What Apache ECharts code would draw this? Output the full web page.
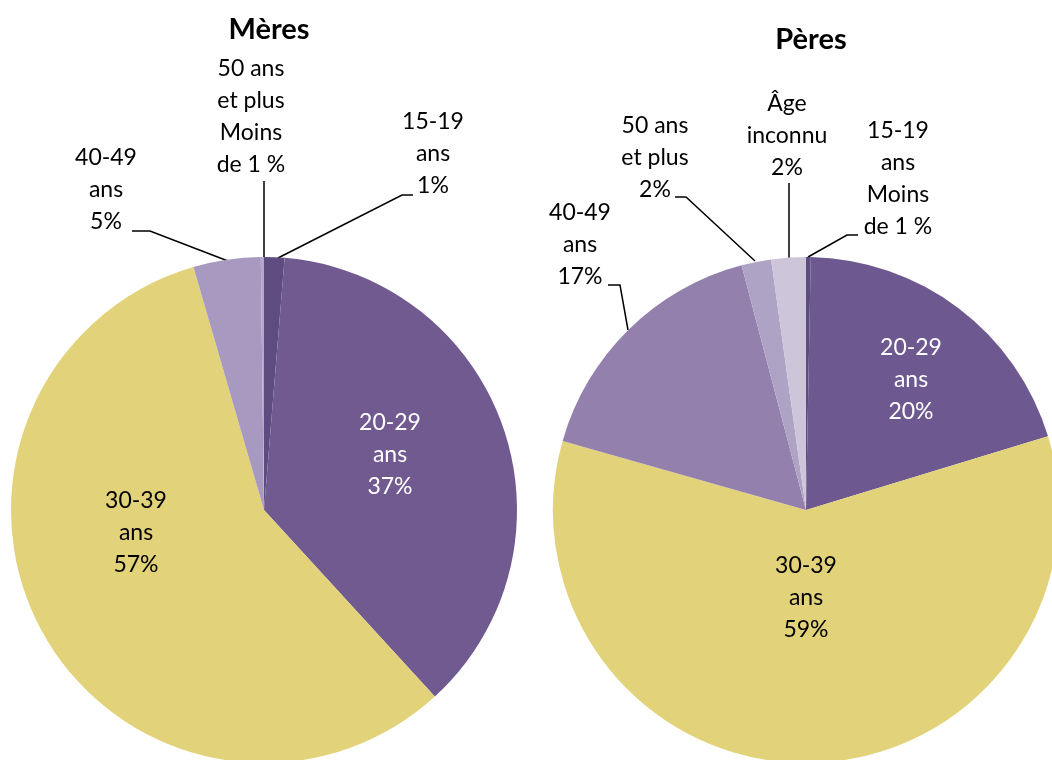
<!DOCTYPE html>
<html>
<head>
    <meta charset="utf-8"/>
    <title>Âge des parents</title>
    <script src="https://cdn.jsdelivr.net/npm/echarts@6/dist/echarts.min.js"></script>
    <style>
        html, body { margin: 0; padding: 0; background: #fff; }
        #main { width: 1052px; height: 760px; }
    </style>
</head>
<body>
<div id="main"></div>
<script type="text/javascript">
    // données
    const categoriesMeres = ['15-19 ans', '20-29 ans', '30-39 ans', '40-49 ans', '50 ans et plus'];
    const valuesMeres = [1.3, 36.9, 57.3, 4.3, 0.2];
    const labelsMeres = ['15-19\nans\n1%', '20-29\nans\n37%', '30-39\nans\n57%', '40-49\nans\n5%', '50 ans\net plus\nMoins\nde 1 %'];
    const colorsMeres = ['#5e4b80', '#705a90', '#e2d27a', '#a899c0', '#b3a8c9'];

    const categoriesPeres = ['15-19 ans', '20-29 ans', '30-39 ans', '40-49 ans', '50 ans et plus', 'Âge inconnu'];
    const valuesPeres = [0.3, 20.0, 59.1, 16.5, 1.9, 2.2];
    const labelsPeres = ['15-19\nans\nMoins\nde 1 %', '20-29\nans\n20%', '30-39\nans\n59%', '40-49\nans\n17%', '50 ans\net plus\n2%', 'Âge\ninconnu\n2%'];
    const colorsPeres = ['#5e4b80', '#6d5890', '#e2d27a', '#9480ad', '#aea3c5', '#cdc6db'];

    // placement des étiquettes (centre du texte) et lignes de rappel
    const labelPosMeres = [
        {x: 433, y: 154, line: [[278, 258], [402, 195], [413, 195]]},
        {x: 390, y: 455, color: '#fff'},
        {x: 136, y: 533},
        {x: 106, y: 190, line: [[228, 261], [150, 231], [132, 231]]},
        {x: 251, y: 117, line: [[264, 258], [264, 220], [264, 181]]}
    ];
    const labelPosPeres = [
        {x: 898, y: 179, line: [[808, 257], [847, 235], [858, 235]]},
        {x: 911, y: 380, color: '#fff'},
        {x: 806, y: 598},
        {x: 580, y: 245, line: [[628, 330], [620, 285], [608, 285]]},
        {x: 655, y: 158, line: [[755, 261], [686, 197], [675, 197]]},
        {x: 787, y: 136, line: [[789, 258], [789, 220], [789, 183]]}
    ];

    const fontFamily = 'Lato, "Open Sans", sans-serif';

    let buildData = function (cats, vals, labels, colors, pos) {
        return cats.map(function (c, i) {
            return {
                name: c,
                value: vals[i],
                itemStyle: {color: colors[i]},
                label: {formatter: labels[i], color: pos[i].color || '#000'},
                labelLine: {show: !!pos[i].line}
            };
        });
    };

    let makeLayout = function (pos) {
        return function (params) {
            let p = pos[params.dataIndex];
            let res = {x: p.x, y: p.y, align: 'center', verticalAlign: 'middle'};
            if (p.line) {
                res.labelLinePoints = p.line;
            }
            return res;
        };
    };

    let pieSeries = function (name, cx, data, pos) {
        return {
            name: name,
            type: 'pie',
            center: [cx, 510],
            radius: 253,
            startAngle: 90,
            clockwise: true,
            avoidLabelOverlap: false,
            silent: true,
            label: {
                show: true,
                position: 'outside',
                fontFamily: fontFamily,
                fontSize: 23,
                lineHeight: 32
            },
            labelLine: {
                show: true,
                lineStyle: {color: '#000', width: 1.5}
            },
            labelLayout: makeLayout(pos),
            itemStyle: {borderWidth: 0},
            emphasis: {disabled: true},
            data: data
        };
    };

    let chart = echarts.init(document.getElementById('main'));
    chart.setOption({
        animation: false,
        title: [
            {
                text: 'Mères', left: 264, top: 10, textAlign: 'center',
                textStyle: {fontFamily: fontFamily, fontSize: 29, fontWeight: 'bold', color: '#000'}
            },
            {
                text: 'Pères', left: 806, top: 20, textAlign: 'center',
                textStyle: {fontFamily: fontFamily, fontSize: 29, fontWeight: 'bold', color: '#000'}
            }
        ],
        series: [
            pieSeries('Mères', 264, buildData(categoriesMeres, valuesMeres, labelsMeres, colorsMeres, labelPosMeres), labelPosMeres),
            pieSeries('Pères', 806, buildData(categoriesPeres, valuesPeres, labelsPeres, colorsPeres, labelPosPeres), labelPosPeres)
        ]
    });
</script>
</body>
</html>
